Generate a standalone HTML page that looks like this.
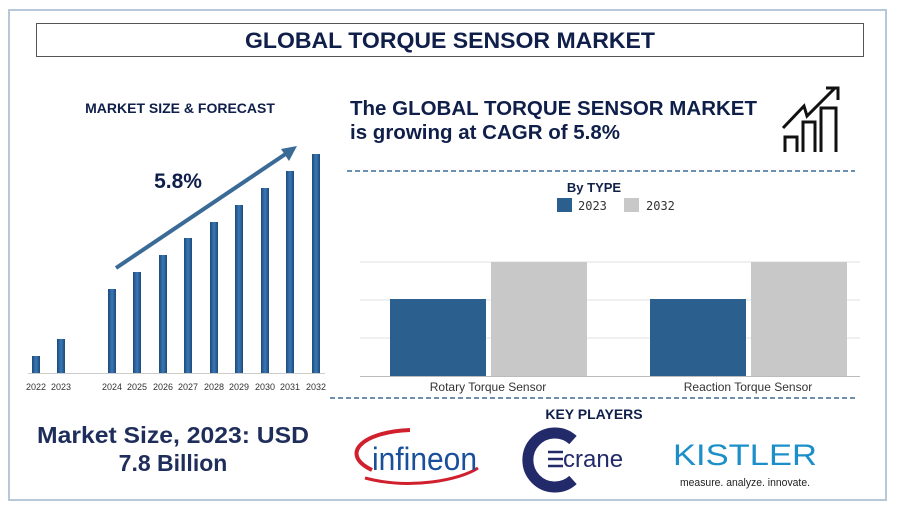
<!DOCTYPE html>
<html><head><style>
body{margin:0;background:#fff;width:900px;height:513px;overflow:hidden;font-family:"Liberation Sans",sans-serif;}
</style></head><body>
<svg width="900" height="513" xmlns="http://www.w3.org/2000/svg" font-family="Liberation Sans, sans-serif">
<defs><linearGradient id="bg" x1="0" x2="1"><stop offset="0" stop-color="#1d4a78"/><stop offset="0.5" stop-color="#3a78b8"/><stop offset="1" stop-color="#1d4a78"/></linearGradient></defs>
<rect x="9" y="10" width="877" height="490" fill="none" stroke="#b7c9d8" stroke-width="2"/>
<rect x="36.5" y="23.5" width="827" height="33" fill="#fff" stroke="#555" stroke-width="1"/>
<text x="450" y="48" text-anchor="middle" font-size="22" font-weight="bold" fill="#0f1f4a" textLength="410" lengthAdjust="spacingAndGlyphs">GLOBAL TORQUE SENSOR MARKET</text>
<text x="180" y="113" text-anchor="middle" font-size="14" font-weight="bold" fill="#0f1f4a">MARKET SIZE &amp; FORECAST</text>
<g fill="url(#bg)">
<rect x="32" y="356" width="8" height="17"/><rect x="57" y="339" width="8" height="34"/>
<rect x="108" y="289" width="8" height="84"/><rect x="133" y="272" width="8" height="101"/>
<rect x="159" y="255" width="8" height="118"/><rect x="184" y="238" width="8" height="135"/>
<rect x="210" y="222" width="8" height="151"/><rect x="235" y="205" width="8" height="168"/>
<rect x="261" y="188" width="8" height="185"/><rect x="286" y="171" width="8" height="202"/>
<rect x="312" y="154" width="8" height="219"/>
</g>
<line x1="28" y1="373.5" x2="325" y2="373.5" stroke="#ccc"/>
<g font-size="9" fill="#333" text-anchor="middle">
<text x="36" y="390">2022</text><text x="61" y="390">2023</text><text x="112" y="390">2024</text><text x="137" y="390">2025</text><text x="163" y="390">2026</text><text x="188" y="390">2027</text><text x="214" y="390">2028</text><text x="239" y="390">2029</text><text x="265" y="390">2030</text><text x="290" y="390">2031</text><text x="316" y="390">2032</text>
</g>
<line x1="116" y1="268" x2="290" y2="151" stroke="#3a6a96" stroke-width="4"/>
<polygon points="297,146 281,149 289,161" fill="#3a6a96"/>
<text x="178" y="188" text-anchor="middle" font-size="21" font-weight="bold" fill="#0f1f4a">5.8%</text>
<text x="173" y="443" text-anchor="middle" font-size="23" font-weight="bold" fill="#1e2d5a" textLength="272" lengthAdjust="spacingAndGlyphs">Market Size, 2023: USD</text>
<text x="173" y="471" text-anchor="middle" font-size="23" font-weight="bold" fill="#1e2d5a">7.8 Billion</text>
<text x="350" y="115" font-size="20" font-weight="bold" fill="#0f1f4a" textLength="407" lengthAdjust="spacingAndGlyphs">The GLOBAL TORQUE SENSOR MARKET</text>
<text x="350" y="139" font-size="20" font-weight="bold" fill="#0f1f4a" textLength="270" lengthAdjust="spacingAndGlyphs">is growing at CAGR of 5.8%</text>
<g stroke="#111" stroke-width="3" fill="none">
<path d="M785 152V137H797V152M803 152V122H815V152M821 152V108H836V152"/>
<path d="M783 128L804 106L807 116L835 88"/><path d="M826 88H838V100"/>
</g>
<line x1="347" y1="171" x2="855" y2="171" stroke="#3a6a96" stroke-width="1.5" stroke-dasharray="5,3"/>
<line x1="330" y1="398" x2="858" y2="398" stroke="#3a6a96" stroke-width="1.5" stroke-dasharray="5,3"/>
<text x="594" y="192" text-anchor="middle" font-size="13" font-weight="bold" fill="#0f1f4a">By TYPE</text>
<rect x="557" y="198" width="15" height="14" fill="#2b5f8e"/><text x="578" y="210" font-size="12" fill="#333" font-family="DejaVu Sans Mono,monospace">2023</text>
<rect x="624" y="198" width="15" height="14" fill="#c8c8c8"/><text x="646" y="210" font-size="12" fill="#333" font-family="DejaVu Sans Mono,monospace">2032</text>
<g stroke="#e2e2e2"><line x1="360" y1="262" x2="860" y2="262"/><line x1="360" y1="300" x2="860" y2="300"/><line x1="360" y1="338" x2="860" y2="338"/></g>
<rect x="390" y="299" width="96" height="77" fill="#2b5f8e"/><rect x="491" y="262" width="96" height="114" fill="#c8c8c8"/>
<rect x="650" y="299" width="96" height="77" fill="#2b5f8e"/><rect x="751" y="262" width="96" height="114" fill="#c8c8c8"/>
<line x1="360" y1="376.5" x2="860" y2="376.5" stroke="#bbb"/>
<text x="488" y="391" text-anchor="middle" font-size="12" fill="#333">Rotary Torque Sensor</text>
<text x="748" y="391" text-anchor="middle" font-size="12" fill="#333">Reaction Torque Sensor</text>
<text x="594" y="419" text-anchor="middle" font-size="14" font-weight="bold" fill="#0f1f4a">KEY PLAYERS</text>
<path d="M372 470C340 455 360 432 410 430" stroke="#d0202e" stroke-width="4" fill="none"/>
<path d="M365 478C410 490 460 480 478 468" stroke="#d0202e" stroke-width="3" fill="none"/>
<text x="372" y="470" font-size="32" fill="#1a4f9c" textLength="105" lengthAdjust="spacingAndGlyphs">infineon</text>
<path d="M573 440A27 27 0 1 0 573 480" stroke="#232a6a" stroke-width="11" fill="none"/>
<g stroke="#232a6a" stroke-width="2.5"><line x1="548" y1="452" x2="563" y2="452"/><line x1="548" y1="459" x2="563" y2="459"/><line x1="548" y1="466" x2="563" y2="466"/></g>
<text x="563" y="467" font-size="24" fill="#232a6a">crane</text>
<text x="673" y="465" font-size="30" fill="#1c8fc9" textLength="144" lengthAdjust="spacingAndGlyphs">KISTLER</text>
<text x="680" y="486" font-size="11" fill="#222" textLength="130" lengthAdjust="spacingAndGlyphs">measure. analyze. innovate.</text>
</svg>
</body></html>
